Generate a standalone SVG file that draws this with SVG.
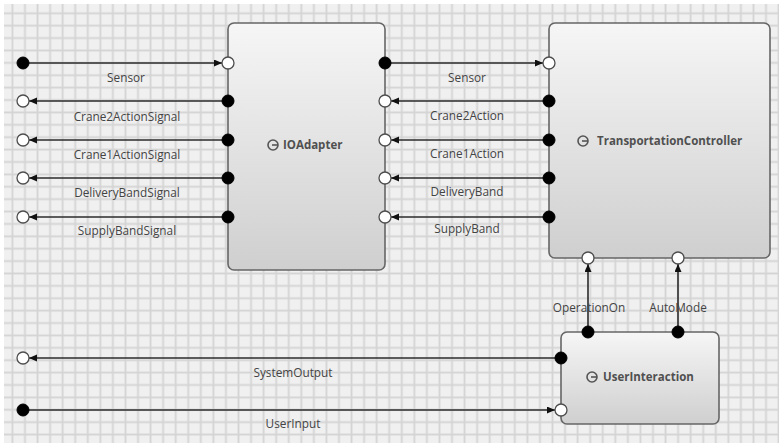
<svg xmlns="http://www.w3.org/2000/svg" width="779" height="443" viewBox="0 0 779 443">
  <style>
    .lbl { font-family: "Open Sans", "Noto Sans", sans-serif; font-size: 11.8px; fill: #444444; text-anchor: middle; }
    .title { font-family: "Open Sans", "Noto Sans", sans-serif; font-size: 11.5px; font-weight: bold; fill: #505050; }
    .box { fill: url(#boxFill); stroke: #666666; stroke-width: 1.6; }
    .wire { stroke: #2b2b2b; stroke-width: 1.6; fill: none; }
    .wire.arrow { marker-end: url(#tip); }
    .pin-in { fill: #ffffff; stroke: #4d4d4d; stroke-width: 1.3; }
    .pin-out { fill: #000000; stroke: #000000; stroke-width: 1; }
    .icon { fill: none; stroke: #555555; stroke-width: 1.6; }
  </style>
  <defs>
    <pattern id="grid" patternUnits="userSpaceOnUse" x="6.12" y="7.1" width="12.56" height="12.39">
      <rect x="0" y="0" width="12.56" height="12.39" fill="#f0f0f0"/>
      <rect x="5.4" y="0" width="1.8" height="12.39" fill="#d4d4d4"/>
      <rect x="0" y="5.3" width="12.56" height="1.8" fill="#d4d4d4"/>
    </pattern>
    <linearGradient id="boxFill" x1="0" y1="0" x2="0" y2="1">
      <stop offset="0" stop-color="#f6f6f6"/>
      <stop offset="1" stop-color="#cfcfcf"/>
    </linearGradient>
    <marker id="tip" markerUnits="userSpaceOnUse" markerWidth="9" markerHeight="8" refX="8" refY="3.5" orient="auto">
      <path d="M0,0 L8,3.5 L0,7 z" fill="#111111"/>
    </marker>
  </defs>

  <!-- canvas -->
  <rect x="0" y="0" width="779" height="443" fill="#ffffff"/>
  <rect x="4" y="4" width="775" height="439" fill="url(#grid)"/>

  <!-- connectors -->
  <g id="connectors">
    <line class="wire arrow" x1="23" y1="63" x2="222" y2="63"/>
    <line class="wire arrow" x1="228" y1="101" x2="29" y2="101"/>
    <line class="wire arrow" x1="228" y1="140" x2="29" y2="140"/>
    <line class="wire arrow" x1="228" y1="178" x2="29" y2="178"/>
    <line class="wire arrow" x1="228" y1="217" x2="29" y2="217"/>
    <line class="wire arrow" x1="385" y1="63" x2="543" y2="63"/>
    <line class="wire arrow" x1="549" y1="101" x2="391" y2="101"/>
    <line class="wire arrow" x1="549" y1="140" x2="391" y2="140"/>
    <line class="wire arrow" x1="549" y1="178" x2="391" y2="178"/>
    <line class="wire arrow" x1="549" y1="217" x2="391" y2="217"/>
    <line class="wire arrow" x1="588" y1="332" x2="588" y2="264"/>
    <line class="wire arrow" x1="678" y1="332" x2="678" y2="264"/>
    <line class="wire arrow" x1="561" y1="358" x2="29" y2="358"/>
    <line class="wire arrow" x1="23" y1="410" x2="555" y2="410"/>

    <text class="lbl" x="126" y="82">Sensor</text>
    <text class="lbl" x="127" y="121">Crane2ActionSignal</text>
    <text class="lbl" x="127" y="159">Crane1ActionSignal</text>
    <text class="lbl" x="127" y="197">DeliveryBandSignal</text>
    <text class="lbl" x="127" y="235">SupplyBandSignal</text>
    <text class="lbl" x="467" y="82">Sensor</text>
    <text class="lbl" x="467" y="120">Crane2Action</text>
    <text class="lbl" x="467" y="158">Crane1Action</text>
    <text class="lbl" x="467" y="196">DeliveryBand</text>
    <text class="lbl" x="467" y="233">SupplyBand</text>
    <text class="lbl" x="589" y="312">OperationOn</text>
    <text class="lbl" x="678" y="312">AutoMode</text>
    <text class="lbl" x="293" y="377">SystemOutput</text>
    <text class="lbl" x="293" y="428">UserInput</text>
  </g>

  <!-- boundary pins of the enclosing system -->
  <g id="system-pins">
    <circle class="pin-out" cx="23" cy="63" r="6"/>
    <circle class="pin-in" cx="23" cy="101" r="6"/>
    <circle class="pin-in" cx="23" cy="140" r="6"/>
    <circle class="pin-in" cx="23" cy="178" r="6"/>
    <circle class="pin-in" cx="23" cy="217" r="6"/>
    <circle class="pin-in" cx="23" cy="358" r="6"/>
    <circle class="pin-out" cx="23" cy="410" r="6"/>
  </g>

  <g id="IOAdapter">
    <rect class="box" x="228" y="23" width="157" height="247" rx="6"/>
    <circle class="icon" cx="273" cy="145" r="5"/>
    <line class="icon" x1="272" y1="145" x2="278" y2="145"/>
    <text class="title" x="283" y="149">IOAdapter</text>
    <circle class="pin-in" cx="228" cy="63" r="6"/>
    <circle class="pin-out" cx="228" cy="101" r="6"/>
    <circle class="pin-out" cx="228" cy="140" r="6"/>
    <circle class="pin-out" cx="228" cy="178" r="6"/>
    <circle class="pin-out" cx="228" cy="217" r="6"/>
    <circle class="pin-out" cx="385" cy="63" r="6"/>
    <circle class="pin-in" cx="385" cy="101" r="6"/>
    <circle class="pin-in" cx="385" cy="140" r="6"/>
    <circle class="pin-in" cx="385" cy="178" r="6"/>
    <circle class="pin-in" cx="385" cy="217" r="6"/>
  </g>

  <g id="TransportationController">
    <rect class="box" x="549" y="23" width="221" height="235" rx="6"/>
    <circle class="icon" cx="583" cy="141" r="5"/>
    <line class="icon" x1="582" y1="141" x2="588" y2="141"/>
    <text class="title" x="597" y="145">TransportationController</text>
    <circle class="pin-in" cx="549" cy="63" r="6"/>
    <circle class="pin-out" cx="549" cy="101" r="6"/>
    <circle class="pin-out" cx="549" cy="140" r="6"/>
    <circle class="pin-out" cx="549" cy="178" r="6"/>
    <circle class="pin-out" cx="549" cy="217" r="6"/>
    <circle class="pin-in" cx="588" cy="258" r="6"/>
    <circle class="pin-in" cx="678" cy="258" r="6"/>
  </g>

  <g id="UserInteraction">
    <rect class="box" x="561" y="332" width="158" height="92" rx="6"/>
    <circle class="icon" cx="592" cy="377" r="5"/>
    <line class="icon" x1="591" y1="377" x2="597" y2="377"/>
    <text class="title" x="603" y="381">UserInteraction</text>
    <circle class="pin-out" cx="588" cy="332" r="6"/>
    <circle class="pin-out" cx="678" cy="332" r="6"/>
    <circle class="pin-out" cx="561" cy="358" r="6"/>
    <circle class="pin-in" cx="561" cy="410" r="6"/>
  </g>
</svg>
